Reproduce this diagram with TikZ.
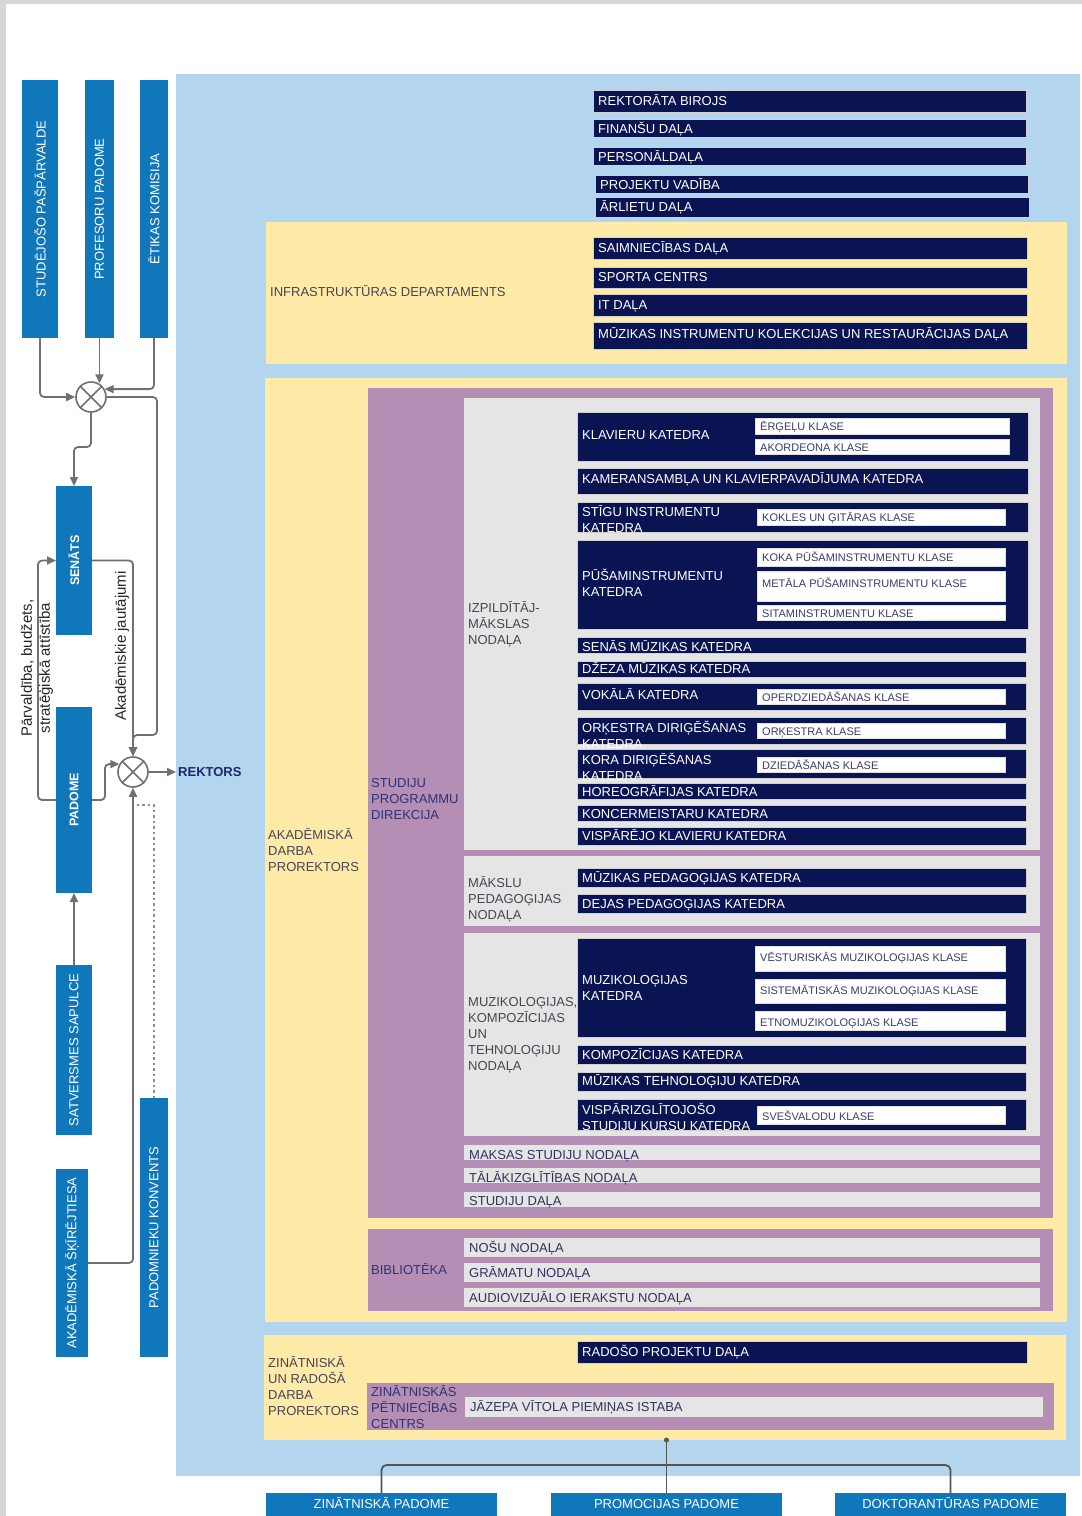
\documentclass[tikz,border=0pt]{standalone}
\usepackage{fontspec}
\setmainfont{Liberation Sans}
\usetikzlibrary{arrows.meta}
\definecolor{pageborder}{RGB}{214,214,214}
\definecolor{bgblue}{RGB}{179,213,238}
\definecolor{ylw}{RGB}{255,234,168}
\definecolor{prp}{RGB}{180,142,180}
\definecolor{pgray}{RGB}{229,229,229}
\definecolor{navy}{RGB}{10,20,82}
\definecolor{lblue}{RGB}{17,119,187}
\definecolor{kltxtc}{RGB}{60,60,105}
\definecolor{gbtxtc}{RGB}{50,50,95}
\definecolor{lbltxtc}{RGB}{70,70,85}
\definecolor{prptxtc}{RGB}{50,50,115}
\definecolor{connc}{RGB}{112,112,112}
\definecolor{connd}{RGB}{85,85,85}
\definecolor{rektc}{RGB}{28,40,110}
\newcommand\mkrect[6]{\node[#2,anchor=north west,inner sep=0pt,outer sep=0pt,minimum width={(#5-#3)*1pt},minimum height={(#6-#4)*1pt}] (#1) at (#3,#4) {};}
\newcommand\bx[8]{\mkrect{#1}{#2}{#3}{#4}{#5}{#6}\node[#2txt] (#1t) at (#3+5,#8) {#7};}
\newcommand\bxm[8]{\mkrect{#1}{#2}{#3}{#4}{#5}{#6}\node[#2txt,anchor=west,align=left] (#1t) at (#3+5,#8) {#7};}
\newcommand\vbx[7]{\mkrect{#1}{lb}{#2}{#3}{#4}{#5}\node[lbtxt,rotate=90,#7] (#1t) at (#1.center) {#6};}
\tikzset{
 area/.style={draw=none},
 nv/.style={fill=navy,draw=black!18,line width=0.8pt},
 nvtxt/.style={text=white,font=\fontsize{13}{16}\selectfont,inner sep=0pt,anchor=base west},
 kl/.style={fill=white,draw=black!12,line width=0.6pt},
 kltxt/.style={text=kltxtc,font=\fontsize{11}{12}\selectfont,inner sep=0pt,anchor=base west},
 gb/.style={fill=pgray},
 gbtxt/.style={text=gbtxtc,font=\fontsize{13}{16}\selectfont,inner sep=0pt,anchor=base west},
 lb/.style={fill=lblue},
 lbtxt/.style={text=white,font=\fontsize{13}{14}\selectfont,inner sep=0pt},
 lbl/.style={text=lbltxtc,font=\fontsize{13}{16}\selectfont,inner sep=0pt,anchor=west,align=left},
 plbl/.style={text=prptxtc,font=\fontsize{13}{16}\selectfont,inner sep=0pt,anchor=west,align=left},
 conn/.style={draw=connc,line width=1.8pt,rounded corners=4pt},
 arr/.style={-{Triangle[length=9pt,width=8pt]}},
 xcirc/.style={circle,draw=connc,line width=1.6pt,fill=white,minimum size=30pt,inner sep=0pt},
}
\begin{document}
\begin{tikzpicture}[x=1pt,y=-1pt]
\useasboundingbox (0,0) rectangle (1082,1516);
\fill[pageborder] (0,0) rectangle (1082,1516);
\fill[white] (6,4) rectangle (1082,1516);
% backgrounds
\mkrect{main}{fill=bgblue}{176}{74}{1080}{1476}
\mkrect{infra}{fill=ylw}{266}{222}{1067}{364}
\mkrect{akad}{fill=ylw}{265}{378}{1067}{1322}
\mkrect{zin}{fill=ylw}{264}{1335}{1066}{1440}
\mkrect{spd}{fill=prp}{368}{388}{1053}{1218}
\mkrect{bib}{fill=prp}{368}{1229}{1053}{1311}
\mkrect{zpc}{fill=prp}{367}{1383}{1054}{1430}
\mkrect{izp}{gb}{464}{398}{1040}{850}
\mkrect{mpn}{gb}{464}{856}{1040}{926}
\mkrect{mkt}{gb}{464}{933}{1040}{1136}
% labels
\node[lbl] (infral) at (270,291) {INFRASTRUKTŪRAS DEPARTAMENTS};
\node[lbl] (akadl) at (268,850) {AKADĒMISKĀ\\DARBA\\PROREKTORS};
\node[plbl] (spdl) at (371,799) {STUDIJU\\PROGRAMMU\\DIREKCIJA};
\node[lbl] (izpl) at (468,624) {IZPILDĪTĀJ-\\MĀKSLAS\\NODAĻA};
\node[lbl] (mpnl) at (468,899) {MĀKSLU\\PEDAGOĢIJAS\\NODAĻA};
\node[lbl] (mktl) at (468,1035) {MUZIKOLOĢIJAS,\\KOMPOZĪCIJAS\\UN\\TEHNOLOĢIJU\\NODAĻA};
\node[plbl] (bibl) at (371,1269) {BIBLIOTĒKA};
\node[lbl] (zinl) at (268,1386) {ZINĀTNISKĀ\\UN RADOŠĀ\\DARBA\\PROREKTORS};
\node[plbl] (zpcl) at (371,1407) {ZINĀTNISKĀS\\PĒTNIECĪBAS\\CENTRS};
% top bars
\bx{rb}{nv}{593}{90}{1026}{112}{REKTORĀTA BIROJS}{105.5}
\bx{fin}{nv}{593}{119}{1026}{137}{FINANŠU DAĻA}{133}
\bx{pers}{nv}{593}{147}{1026}{165}{PERSONĀLDAĻA}{161}
\bx{proj}{nv}{595}{175}{1028}{193}{PROJEKTU VADĪBA}{189}
\bx{arl}{nv}{595}{197}{1029}{217}{ĀRLIETU DAĻA}{211}
\bx{saim}{nv}{593}{237}{1027}{259}{SAIMNIECĪBAS DAĻA}{252.5}
\bx{sport}{nv}{593}{267}{1027}{288}{SPORTA CENTRS}{281.5}
\bx{itd}{nv}{593}{294}{1027}{316}{IT DAĻA}{309.5}
\bx{muzi}{nv}{593}{322}{1027}{349}{MŪZIKAS INSTRUMENTU KOLEKCIJAS UN RESTAURĀCIJAS DAĻA}{338.5}
% izpilditajmakslas
\bx{klav}{nv}{577}{412}{1028}{461}{KLAVIERU KATEDRA}{439.5}
\bx{k1}{kl}{755}{418}{1009}{434}{ĒRĢEĻU KLASE}{430}
\bx{k2}{kl}{755}{439}{1009}{454}{AKORDEONA KLASE}{451}
\bx{kam}{nv}{577}{468}{1028}{494}{KAMERANSAMBĻA UN KLAVIERPAVADĪJUMA KATEDRA}{483.5}
\bxm{stig}{nv}{577}{502}{1028}{532}{STĪGU INSTRUMENTU\\KATEDRA}{519}
\bx{k3}{kl}{757}{509}{1005}{525}{KOKLES UN ĢITĀRAS KLASE}{521}
\bxm{pus}{nv}{577}{540}{1028}{629}{PŪŠAMINSTRUMENTU\\KATEDRA}{583}
\bx{k4}{kl}{757}{548}{1005}{566}{KOKA PŪŠAMINSTRUMENTU KLASE}{561}
\bx{k5}{kl}{757}{571}{1005}{601}{METĀLA PŪŠAMINSTRUMENTU KLASE}{587}
\bx{k6}{kl}{757}{605}{1005}{620}{SITAMINSTRUMENTU KLASE}{617}
\bx{sen}{nv}{577}{637}{1026}{653}{SENĀS MŪZIKAS KATEDRA}{651.5}
\bx{dze}{nv}{577}{661}{1026}{677}{DŽEZA MŪZIKAS KATEDRA}{673.5}
\bx{vok}{nv}{577}{683}{1026}{710}{VOKĀLĀ KATEDRA}{699.5}
\bx{k7}{kl}{757}{689}{1005}{704}{OPERDZIEDĀŠANAS KLASE}{701}
\bxm{ork}{nv}{577}{717}{1026}{744}{ORĶESTRA DIRIĢĒŠANAS\\KATEDRA}{735}
\bx{k8}{kl}{757}{723}{1005}{738}{ORĶESTRA KLASE}{735}
\bxm{kor}{nv}{577}{749}{1026}{778}{KORA DIRIĢĒŠANAS\\KATEDRA}{767}
\bx{k9}{kl}{757}{757}{1005}{772}{DZIEDĀŠANAS KLASE}{769}
\bx{hor}{nv}{577}{783}{1026}{799}{HOREOGRĀFIJAS KATEDRA}{796.5}
\bx{kon}{nv}{577}{805}{1026}{821}{KONCERMEISTARU KATEDRA}{818.5}
\bx{vkl}{nv}{577}{827}{1026}{845}{VISPĀRĒJO KLAVIERU KATEDRA}{840.5}
% makslu pedagogijas
\bx{mped}{nv}{577}{868}{1026}{887}{MŪZIKAS PEDAGOĢIJAS KATEDRA}{882.5}
\bx{dped}{nv}{577}{894}{1026}{913}{DEJAS PEDAGOĢIJAS KATEDRA}{908.5}
% muzikologijas
\bxm{muzk}{nv}{577}{938}{1026}{1037}{MUZIKOLOĢIJAS\\KATEDRA}{988}
\bx{k10}{kl}{755}{946}{1005}{971}{VĒSTURISKĀS MUZIKOLOĢIJAS KLASE}{961}
\bx{k11}{kl}{755}{979}{1005}{1003}{SISTEMĀTISKĀS MUZIKOLOĢIJAS KLASE}{994}
\bx{k12}{kl}{755}{1011}{1005}{1030}{ETNOMUZIKOLOĢIJAS KLASE}{1026}
\bx{komp}{nv}{577}{1045}{1026}{1064}{KOMPOZĪCIJAS KATEDRA}{1059.5}
\bx{tehn}{nv}{577}{1072}{1026}{1091}{MŪZIKAS TEHNOLOĢIJU KATEDRA}{1085.5}
\bxm{vizk}{nv}{577}{1099}{1026}{1130}{VISPĀRIZGLĪTOJOŠO\\STUDIJU KURSU KATEDRA}{1117}
\bx{k13}{kl}{757}{1106}{1005}{1124}{SVEŠVALODU KLASE}{1120}
% gray bars
\bx{maks}{gb}{464}{1145}{1040}{1160}{MAKSAS STUDIJU NODAĻA}{1159.5}
\bx{talak}{gb}{464}{1168}{1040}{1183}{TĀLĀKIZGLĪTĪBAS NODAĻA}{1182.5}
\bx{stdal}{gb}{464}{1192}{1040}{1207}{STUDIJU DAĻA}{1205.5}
\bx{nosu}{gb}{464}{1238}{1040}{1257}{NOŠU NODAĻA}{1252.5}
\bx{gram}{gb}{464}{1263}{1040}{1282}{GRĀMATU NODAĻA}{1277.5}
\bx{audio}{gb}{464}{1288}{1040}{1307}{AUDIOVIZUĀLO IERAKSTU NODAĻA}{1302.5}
\bx{rad}{nv}{577}{1341}{1027}{1363}{RADOŠO PROJEKTU DAĻA}{1356.5}
\bx{jaz}{gb}{465}{1397}{1043}{1417}{JĀZEPA VĪTOLA PIEMIŅAS ISTABA}{1411.5}
% left column
\vbx{stud}{22}{80}{58}{338}{STUDĒJOŠO PAŠPĀRVALDE}{}
\vbx{prof}{85}{80}{114}{338}{PROFESORU PADOME}{}
\vbx{etik}{140}{80}{168}{338}{ĒTIKAS KOMISIJA}{}
\vbx{senat}{56}{486}{92}{635}{SENĀTS}{font=\fontsize{12.5}{14}\selectfont\bfseries}
\vbx{pad}{56}{707}{92}{893}{PADOME}{font=\fontsize{12.5}{14}\selectfont\bfseries}
\vbx{satv}{56}{965}{92}{1135}{SATVERSMES SAPULCE}{}
\vbx{skir}{56}{1169}{88}{1357}{AKADĒMISKĀ ŠĶĪRĒJTIESA}{}
\vbx{konv}{140}{1098}{168}{1357}{PADOMNIEKU KONVENTS}{}
\node[xcirc] (c1) at (91,397) {};
\node[xcirc] (c2) at (133,772) {};
\draw[connc,line width=1.6pt] (c1.45)--(c1.225) (c1.135)--(c1.315) (c2.45)--(c2.225) (c2.135)--(c2.315);
\node[text=rektc,font=\fontsize{13}{14}\selectfont\bfseries,anchor=west,inner sep=2pt] (rek) at (176,772) {REKTORS};
\node[rotate=90,align=center,font=\fontsize{15}{18}\selectfont,text=black!85,inner sep=0pt] (lab1) at (37,668) {Pārvaldība, budžets,\\stratēģiskā attīstība};
\node[rotate=90,font=\fontsize{15}{17}\selectfont,text=black!85,inner sep=0pt] (lab2) at (122,646) {Akadēmiskie jautājumi};
% connectors
\coordinate (j1) at (74,447);
\coordinate (j2) at (136,805);
\coordinate (w1) at (157,397);
\coordinate (w2) at (157,735);
\draw[conn,arr] (stud.south) |- (c1.west);
\draw[conn,arr] (prof.south) -- (prof.south |- c1.60);
\draw[conn,arr] (etik.south) |- (c1.30);
\draw[conn,arr] (c1.east) -- (w1) -- (w2) -| (c2.north);
\draw[conn,arr] (c1.south) |- (j1) -- (senat.north);
\draw[conn,arr] (senat.east) -| (c2.north);
\draw[conn,arr] (pad.west) -- ++(-18,0) |- (senat.west);
\draw[conn,arr] (pad.east) -- ++(13,0) |- (c2.150);
\draw[conn,arr] (c2.east) -- (rek.west);
\draw[conn,arr] (satv.north) -- (pad.south);
\draw[conn,arr] (skir.east) -| (c2.south);
\draw[draw=connc!80,line width=2pt,dash pattern=on 2.5pt off 3pt] (konv.north) |- (j2);
% bottom councils
\mkrect{zpad}{lb}{266}{1493}{497}{1530}
\mkrect{prom}{lb}{551}{1493}{782}{1530}
\mkrect{dokt}{lb}{835}{1493}{1066}{1530}
\node[lbtxt,anchor=base] (zpadt) at (381.5,1508.5) {ZINĀTNISKĀ PADOME};
\node[lbtxt,anchor=base] (promt) at (666.5,1508.5) {PROMOCIJAS PADOME};
\node[lbtxt,anchor=base] (doktt) at (950.5,1508.5) {DOKTORANTŪRAS PADOME};
\coordinate (j3) at (666.5,1465);
\draw[draw=connd,line width=1.8pt] (zin.south -| prom.north) -- (prom.north);
\draw[draw=connd,line width=1.8pt,rounded corners=5pt] (zpad.north) |- (j3) -| (dokt.north);
\fill[connd] (zin.south -| prom.north) circle (2.5pt);
\end{tikzpicture}
\end{document}
